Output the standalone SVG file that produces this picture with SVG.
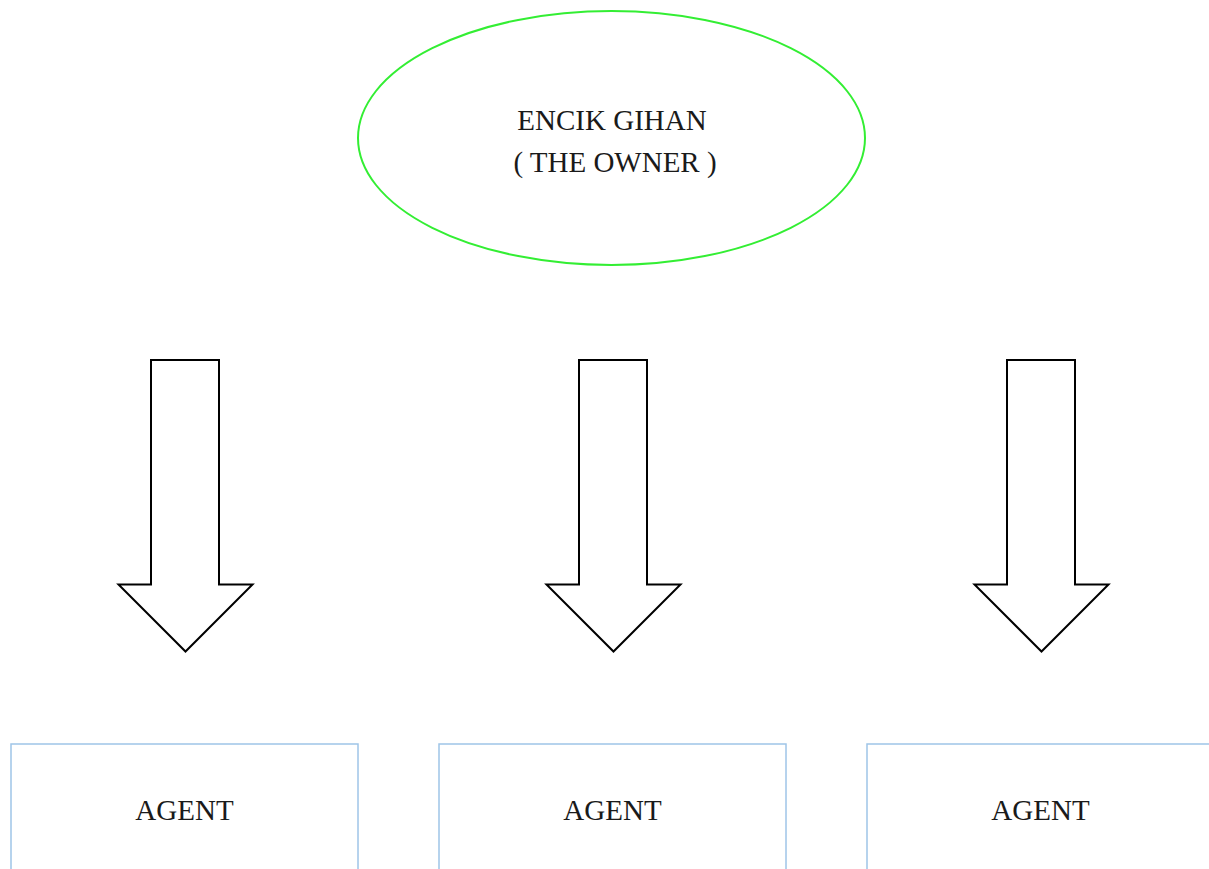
<svg xmlns="http://www.w3.org/2000/svg" width="1209" height="869" viewBox="0 0 1209 869">
<style>
.lbl{font-family:"Liberation Serif","Times New Roman",serif;font-size:29px;fill:#1a1a1a;text-anchor:middle}
.box{fill:#fff;stroke:#9fc5e8;stroke-width:1.5}
.arr{fill:#fff;stroke:#000;stroke-width:2;stroke-linejoin:miter}
</style>
<rect width="1209" height="869" fill="#fff"/>
<g id="owner">
<ellipse cx="611.5" cy="138" rx="253.5" ry="127" fill="#fff" stroke="#33ee33" stroke-width="2"/>
<text class="lbl" x="612" y="130">ENCIK GIHAN</text>
<text class="lbl" x="615" y="172">( THE OWNER )</text>
</g>
<g id="connectors">
<path class="arr" d="M151,360 H219 V584.5 H252.5 L185.5,651.5 L118.5,584.5 H151 Z"/>
<path class="arr" d="M579,360 H647 V584.5 H680.5 L613.5,651.5 L546.5,584.5 H579 Z"/>
<path class="arr" d="M1007,360 H1075 V584.5 H1108.5 L1041.5,651.5 L974.5,584.5 H1007 Z"/>
</g>
<g id="agent1">
<rect class="box" x="11" y="744" width="347" height="140"/>
<text class="lbl" x="184.5" y="820">AGENT</text>
</g>
<g id="agent2">
<rect class="box" x="439" y="744" width="347" height="140"/>
<text class="lbl" x="612.5" y="820">AGENT</text>
</g>
<g id="agent3">
<rect class="box" x="867" y="744" width="347" height="140"/>
<text class="lbl" x="1040.5" y="820">AGENT</text>
</g>
</svg>
